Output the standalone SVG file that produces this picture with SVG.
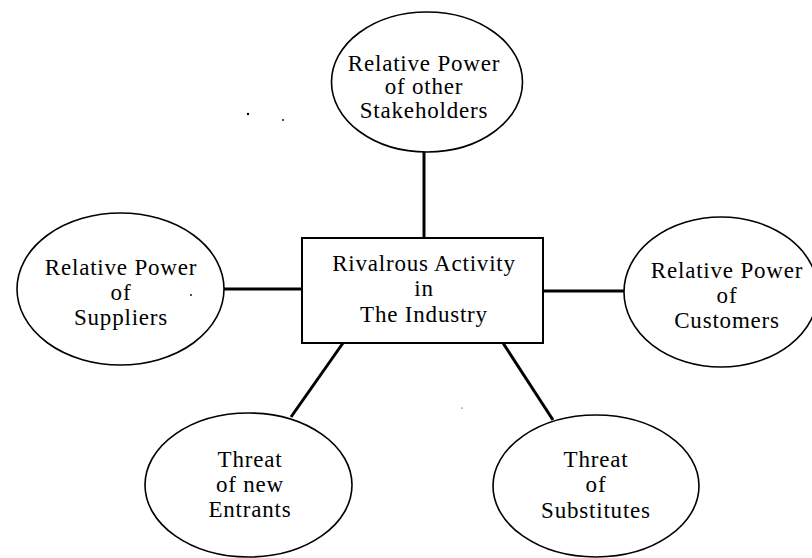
<svg xmlns="http://www.w3.org/2000/svg" width="812" height="558" viewBox="0 0 812 558">
  <style>
    .node { fill: none; stroke: #000; stroke-width: 1.6; }
    .box { fill: none; stroke: #000; stroke-width: 2; }
    .link { stroke: #000; stroke-width: 3; stroke-linecap: butt; }
    .speck { fill: #000; }
  </style>
  <rect width="812" height="558" fill="#fff"/>

  <!-- connectors between the central box and the five forces -->
  <g id="connectors">
    <line class="link" x1="424" y1="152" x2="424" y2="238"/>
    <line class="link" x1="224" y1="289" x2="302" y2="289"/>
    <line class="link" x1="543" y1="291" x2="624" y2="291"/>
    <line class="link" x1="343" y1="343" x2="291" y2="417"/>
    <line class="link" x1="503" y1="343" x2="553" y2="420"/>
  </g>

  <g font-family="'Liberation Serif', 'DejaVu Serif', serif" font-size="23" letter-spacing="0.8" fill="#000" text-anchor="middle">
    <g id="rivalry">
      <rect class="box" x="302" y="238" width="241" height="105"/>
      <text x="424" y="271">Rivalrous Activity</text>
      <text x="424" y="296">in</text>
      <text x="424" y="322">The Industry</text>
    </g>

    <g id="stakeholders">
      <ellipse class="node" cx="427" cy="82" rx="95.5" ry="70"/>
      <text x="424" y="71">Relative Power</text>
      <text x="424" y="94">of other</text>
      <text x="424" y="118">Stakeholders</text>
    </g>

    <g id="suppliers">
      <ellipse class="node" cx="120.5" cy="289" rx="103.5" ry="76"/>
      <text x="121" y="275">Relative Power</text>
      <text x="121" y="300">of</text>
      <text x="121" y="325">Suppliers</text>
    </g>

    <g id="customers">
      <ellipse class="node" cx="721" cy="292" rx="97" ry="75"/>
      <text x="727" y="278">Relative Power</text>
      <text x="727" y="303">of</text>
      <text x="727" y="328">Customers</text>
    </g>

    <g id="entrants">
      <ellipse class="node" cx="248.5" cy="485" rx="103.5" ry="72"/>
      <text x="250" y="467">Threat</text>
      <text x="250" y="492">of new</text>
      <text x="250" y="517">Entrants</text>
    </g>

    <g id="substitutes">
      <ellipse class="node" cx="596" cy="486" rx="103" ry="71"/>
      <text x="596" y="467">Threat</text>
      <text x="596" y="492">of</text>
      <text x="596" y="518">Substitutes</text>
    </g>
  </g>

  <!-- stray print specks -->
  <g id="specks">
    <circle class="speck" cx="248" cy="114" r="1.2"/>
    <circle class="speck" cx="283" cy="120" r="0.9"/>
    <circle class="speck" cx="191" cy="295" r="0.9"/>
    <circle class="speck" cx="462" cy="408" r="0.6"/>
  </g>
</svg>
